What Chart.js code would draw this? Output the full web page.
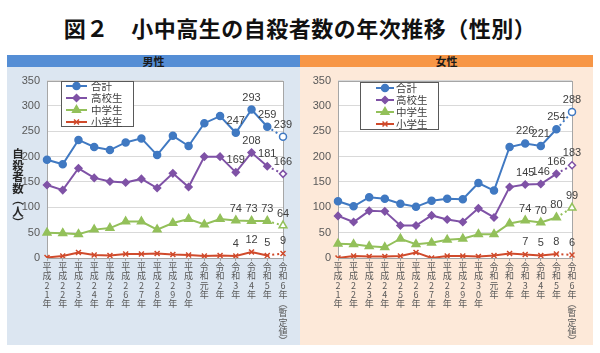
<!DOCTYPE html>
<html lang="ja">
<head>
<meta charset="utf-8">
<script src="https://cdn.jsdelivr.net/npm/chart.js@4/dist/chart.umd.min.js"></script>
<style>
  html, body { margin: 0; padding: 0; background: #fff; }
  body { width: 600px; height: 353px; position: relative; overflow: hidden;
         font-family: "Noto Sans CJK JP", sans-serif; }
  #title { position: absolute; left: 0; top: 11px; width: 600px; text-align: center;
           font-size: 22px; font-weight: bold; color: #111; line-height: 32px; letter-spacing: 0.5px; }
  .head { position: absolute; top: 55px; width: 293px; height: 12px; line-height: 12px;
          text-align: center; font-size: 11px; font-weight: bold; color: #1a1a1a; }
  .panel { position: absolute; top: 67px; width: 293px; height: 278px; }
  .panel canvas { position: absolute; left: 0; top: 0; }
  #ytitle { position: absolute; left: 11px; top: 148px; writing-mode: vertical-rl;
            text-orientation: upright; font-size: 11.5px; font-weight: bold; color: #262626;
            line-height: 14px; letter-spacing: 0; }
</style>
</head>
<body>
<div id="title">図２　小中高生の自殺者数の年次推移（性別）</div>
<div class="head" style="left:7px;background:#558ed5;">男性</div>
<div class="head" style="left:300px;background:#f79646;">女性</div>
<div class="panel" style="left:7px;background:#dce6f1;"><canvas id="male" width="293" height="278"></canvas></div>
<div class="panel" style="left:300px;background:#fde9d9;"><canvas id="female" width="293" height="278"></canvas></div>
<div id="ytitle">自殺者数（人）</div>
<script>
// years (last one is provisional)
var categories = ['平成21年', '平成22年', '平成23年', '平成24年', '平成25年', '平成26年', '平成27年',
    '平成28年', '平成29年', '平成30年', '令和元年', '令和2年', '令和3年', '令和4年', '令和5年', '令和6年（暫定値）'];

var seriesNames = ['合計', '高校生', '中学生', '小学生'];

// 男性
var maleTotal  = [194, 185, 233, 219, 213, 228, 236, 203, 241, 221, 266, 280, 247, 293, 259, 239];
var maleHigh   = [144, 134, 177, 158, 151, 149, 156, 138, 167, 140, 200, 200, 169, 208, 181, 166];
var maleJunior = [50, 49, 47, 56, 59, 72, 72, 56, 69, 77, 66, 77, 74, 73, 73, 64];
var maleElem   = [1, 4, 11, 6, 5, 8, 8, 9, 7, 6, 4, 5, 4, 12, 5, 9];

// 女性
var femaleTotal  = [112, 102, 120, 117, 107, 101, 113, 117, 116, 148, 133, 219, 226, 221, 254, 288];
var femaleHigh   = [83, 71, 93, 92, 64, 64, 84, 76, 71, 98, 80, 140, 145, 146, 166, 183];
var femaleJunior = [28, 27, 23, 21, 38, 27, 30, 36, 38, 47, 47, 68, 74, 70, 80, 99];
var femaleElem   = [0, 4, 3, 3, 4, 11, 0, 4, 4, 3, 5, 9, 7, 5, 8, 6];

// only the last four years carry value labels
var labelFrom = 12;

var colors = ['#4079c2', '#7f52a6', '#93c05a', '#d04a2b'];
var markers = ['circle', 'rectRot', 'triangle', 'crossRot'];
var markerSize = [3.5, 3.5, 4.5, 3.5];

var FONT = '"Noto Sans CJK JP", sans-serif';
var NUMFONT = '"Liberation Sans Narrow", "Liberation Sans", sans-serif';

function buildDatasets(lists) {
    var last = categories.length - 1;
    return lists.map(function (values, i) {
        var fills = values.map(function (v, j) { return j === last ? '#ffffff' : colors[i]; });
        return {
            label: seriesNames[i],
            data: values,
            borderColor: colors[i],
            backgroundColor: colors[i],
            borderWidth: 2,
            tension: 0,
            pointStyle: markers[i],
            pointRadius: markerSize[i],
            pointBorderWidth: 1.5,
            pointBackgroundColor: fills,
            pointBorderColor: colors[i],
            segment: {
                borderDash: function (ctx) { return ctx.p1DataIndex === last ? [2, 3] : undefined; }
            }
        };
    });
}

var plotBack = {
    id: 'plotBack',
    beforeDraw: function (chart) {
        var a = chart.chartArea, c = chart.ctx;
        c.save();
        c.fillStyle = '#ffffff';
        c.fillRect(a.left, a.top, a.right - a.left, a.bottom - a.top);
        c.restore();
    },
    beforeDatasetsDraw: function (chart) {
        var a = chart.chartArea, c = chart.ctx;
        c.save();
        c.strokeStyle = '#a6a6a6';
        c.lineWidth = 1;
        c.strokeRect(Math.round(a.left) + 0.5, Math.round(a.top) + 0.5,
            Math.round(a.right - a.left), Math.round(a.bottom - a.top));
        c.restore();
    }
};

var valueLabels = {
    id: 'valueLabels',
    afterDatasetsDraw: function (chart) {
        var c = chart.ctx;
        c.save();
        c.font = '11px ' + NUMFONT;
        c.fillStyle = '#404040';
        c.textAlign = 'center';
        c.textBaseline = 'middle';
        chart.data.datasets.forEach(function (ds, i) {
            var meta = chart.getDatasetMeta(i);
            for (var j = labelFrom; j < ds.data.length; j++) {
                var p = meta.data[j];
                c.fillText(String(ds.data[j]), p.x, p.y - 12);
            }
        });
        c.restore();
    }
};

var boxLegend = {
    id: 'boxLegend',
    afterDraw: function (chart, args, opts) {
        var c = chart.ctx;
        c.save();
        c.fillStyle = '#ffffff';
        c.fillRect(opts.x, opts.y, opts.w, opts.h);
        c.strokeStyle = '#595959';
        c.lineWidth = 1;
        c.strokeRect(opts.x + 0.5, opts.y + 0.5, opts.w, opts.h);
        c.font = '10.5px ' + FONT;
        c.textBaseline = 'middle';
        chart.data.datasets.forEach(function (ds, i) {
            var y = opts.y + opts.row0 + i * opts.gap;
            c.strokeStyle = ds.borderColor;
            c.lineWidth = 2;
            c.beginPath();
            c.moveTo(opts.x + opts.line0, y);
            c.lineTo(opts.x + opts.line1, y);
            c.stroke();
            c.fillStyle = ds.borderColor;
            c.lineWidth = 1.5;
            Chart.helpers.drawPoint(c, { pointStyle: markers[i], radius: markerSize[i], rotation: 0, borderWidth: 1.5 },
                opts.x + (opts.line0 + opts.line1) / 2, y);
            c.fillStyle = '#404040';
            c.fillText(ds.label, opts.x + opts.text, y + 0.5);
        });
        c.restore();
    }
};

function makeChart(id, lists, yWidth, rightPad, legend) {
    return new Chart(document.getElementById(id), {
        type: 'line',
        data: { labels: categories, datasets: buildDatasets(lists) },
        plugins: [plotBack, valueLabels, boxLegend],
        options: {
            responsive: false,
            devicePixelRatio: 1,
            animation: false,
            layout: { padding: { top: 7, right: rightPad, left: 0, bottom: 0 } },
            plugins: {
                legend: { display: false },
                tooltip: { enabled: false },
                boxLegend: legend
            },
            scales: {
                x: {
                    offset: false,
                    grid: { display: true, drawOnChartArea: false, drawTicks: true, tickLength: 3, color: '#a6a6a6' },
                    border: { display: false },
                    afterFit: function (s) { s.height = 87; },
                    ticks: {
                        autoSkip: false,
                        maxRotation: 0,
                        minRotation: 0,
                        padding: 1,
                        color: '#595959',
                        font: { family: FONT, size: 9, lineHeight: 1.03 },
                        callback: function (v) {
                            var s = this.getLabelForValue(v);
                            return Array.from(s).map(function (ch) {
                                return ch === '（' ? '︵' : ch === '）' ? '︶' : ch;
                            });
                        }
                    }
                },
                y: {
                    min: 0,
                    max: 350,
                    grid: { color: '#d9d9d9', drawTicks: false },
                    border: { display: false },
                    afterFit: function (s) { s.width = yWidth; },
                    ticks: {
                        stepSize: 50,
                        padding: 7,
                        color: '#595959',
                        font: { family: NUMFONT, size: 11 }
                    }
                }
            }
        }
    });
}

makeChart('male', [maleTotal, maleHigh, maleJunior, maleElem], 40, 17,
    { x: 54, y: 14, w: 72, h: 45, line0: 5, line1: 26, text: 30, row0: 5, gap: 12 });
makeChart('female', [femaleTotal, femaleHigh, femaleJunior, femaleElem], 38, 21,
    { x: 60, y: 15, w: 78, h: 47, line0: 16, line1: 34, text: 36, row0: 6, gap: 12 });
</script>
</body>
</html>
